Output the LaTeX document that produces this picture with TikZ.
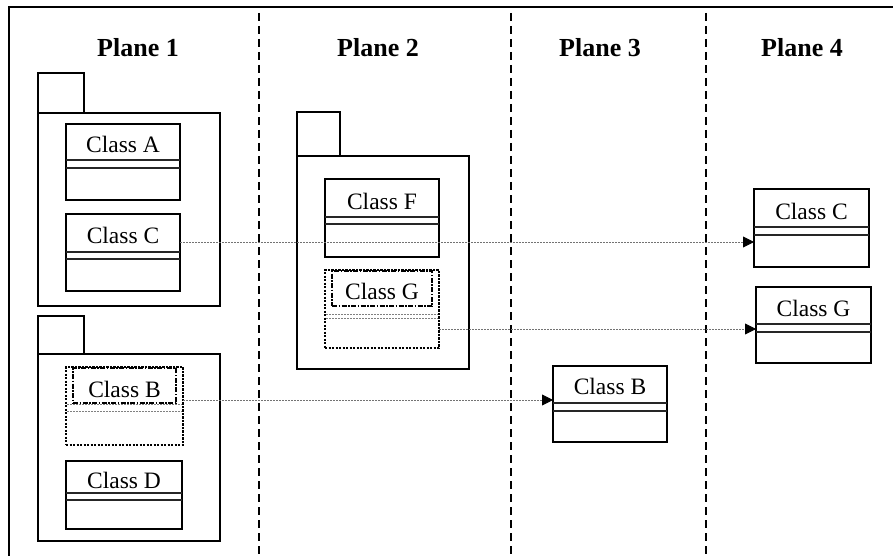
\documentclass[tikz,border=0pt]{standalone}
\usepackage{fontspec}
\setmainfont{Liberation Serif}
\usetikzlibrary{arrows.meta,calc}
\tikzset{
  frameline/.style={line width=1.5pt},
  lane/.style={line width=1.5pt, dash pattern=on 8pt off 5pt},
  pkg/.style={draw, line width=1.5pt, rectangle, inner sep=0pt, outer sep=0pt, anchor=north west},
  cls/.style={draw, line width=1.8pt, rectangle, inner sep=0pt, outer sep=0pt, anchor=north west},
  vcls/.style={draw, line width=2.2pt, dash pattern=on 2.2pt off 1.3pt, rectangle, inner sep=0pt, outer sep=0pt, anchor=north west},
  vname/.style={draw, line width=2pt, dash pattern=on 5pt off 1.5pt on 1.5pt off 1.5pt, rectangle, inner sep=0pt, outer sep=0pt, anchor=north west},
  sepline/.style={line width=1.2pt, black!85},
  vsep/.style={line width=1pt, gray, dash pattern=on 2pt off 1pt},
  conn/.style={line width=0.9pt, black!55, dash pattern=on 2pt off 1pt, -{Triangle[length=11pt,width=11pt,black]}},
  cname/.style={font=\fontsize{23.5}{28}\selectfont, anchor=base, inner sep=0pt},
  head/.style={font=\fontsize{26}{30}\selectfont\bfseries, anchor=base, inner sep=0pt}
}
% #1 name, #2 x, #3 y, #4 w, #5 h, #6 sep1, #7 sep2, #8 baseline offset, #9 text
\newcommand{\umlcls}[9]{%
  \node[cls, minimum width=#4pt, minimum height=#5pt] (#1) at (#2,#3) {};
  \node[cname] (#1t) at ($(#1.north)+(0,#8)$) {#9};
  \draw[sepline] ($(#1.north west)+(0,#6)$) -- ($(#1.north east)+(0,#6)$);
  \draw[sepline] ($(#1.north west)+(0,#7)$) -- ($(#1.north east)+(0,#7)$);
}
% virtual class: #1 name, #2 x, #3 y, #4 w, #5 h, #6 sep1, #7 sep2, #8 baseline, #9 text
\newcommand{\umlvcls}[9]{%
  \node[vcls, minimum width=#4pt, minimum height=#5pt] (#1) at (#2,#3) {};
  \node[vname, minimum width=#4pt-14pt, minimum height=35pt] (#1n) at ($(#1.north west)+(7,1)$) {};
  \node[cname] (#1t) at ($(#1.north)+(0,#8)$) {#9};
  \draw[vsep] ($(#1.north west)+(1,#6)$) -- ($(#1.north east)+(-1,#6)$);
  \draw[vsep] ($(#1.north west)+(1,#7)$) -- ($(#1.north east)+(-1,#7)$);
}
\begin{document}
\begin{tikzpicture}[x=1pt,y=-1pt]
\useasboundingbox (0,0) rectangle (893,556);
% outer frame
\draw[frameline] (9,570) -- (9,7) -- (910,7);
% lanes
\draw[lane] (259,13) -- (259,560);
\draw[lane] (511,13) -- (511,560);
\draw[lane] (706,13) -- (706,560);
% headers
\node[head] (h1) at (138,57) {Plane 1};
\node[head] (h2) at (378,57) {Plane 2};
\node[head] (h3) at (600,57) {Plane 3};
\node[head] (h4) at (802,57) {Plane 4};
% packages
\node[pkg, minimum width=46pt, minimum height=40pt] (p1tab) at (38,73) {};
\node[pkg, minimum width=182pt, minimum height=193pt] (p1) at (38,113) {};
\node[pkg, minimum width=46pt, minimum height=38pt] (p2tab) at (38,316) {};
\node[pkg, minimum width=182pt, minimum height=187pt] (p2) at (38,354) {};
\node[pkg, minimum width=43pt, minimum height=44pt] (p3tab) at (297,112) {};
\node[pkg, minimum width=172pt, minimum height=213pt] (p3) at (297,156) {};
% classes
\umlcls{cA}{66}{124}{114}{76}{36}{44}{29}{Class A}
\umlcls{cCa}{66}{214}{114}{77}{38}{45}{29}{Class C}
\umlvcls{cBa}{66}{367}{117}{78}{37}{44}{30}{Class B}
\umlcls{cD}{66}{461}{116}{68}{32}{39}{27}{Class D}
\umlcls{cF}{325}{179}{114}{78}{38}{45}{30}{Class F}
\umlvcls{cGa}{325}{270}{114}{78}{44}{48}{29}{Class G}
\umlcls{cBb}{553}{366}{114}{76}{37}{45}{28}{Class B}
\umlcls{cCb}{754}{189}{115}{78}{38}{46}{30}{Class C}
\umlcls{cGb}{756}{287}{115}{76}{37}{45}{29}{Class G}
% connectors
\coordinate (ya) at (0,242);
\coordinate (yb) at (0,329);
\coordinate (yc) at (0,400);
\draw[conn] (cCa.east |- ya) -- (cCb.west |- ya);
\draw[conn] (cGa.east |- yb) -- (cGb.west |- yb);
\draw[conn] (cBa.east |- yc) -- (cBb.west |- yc);
\end{tikzpicture}
\end{document}
